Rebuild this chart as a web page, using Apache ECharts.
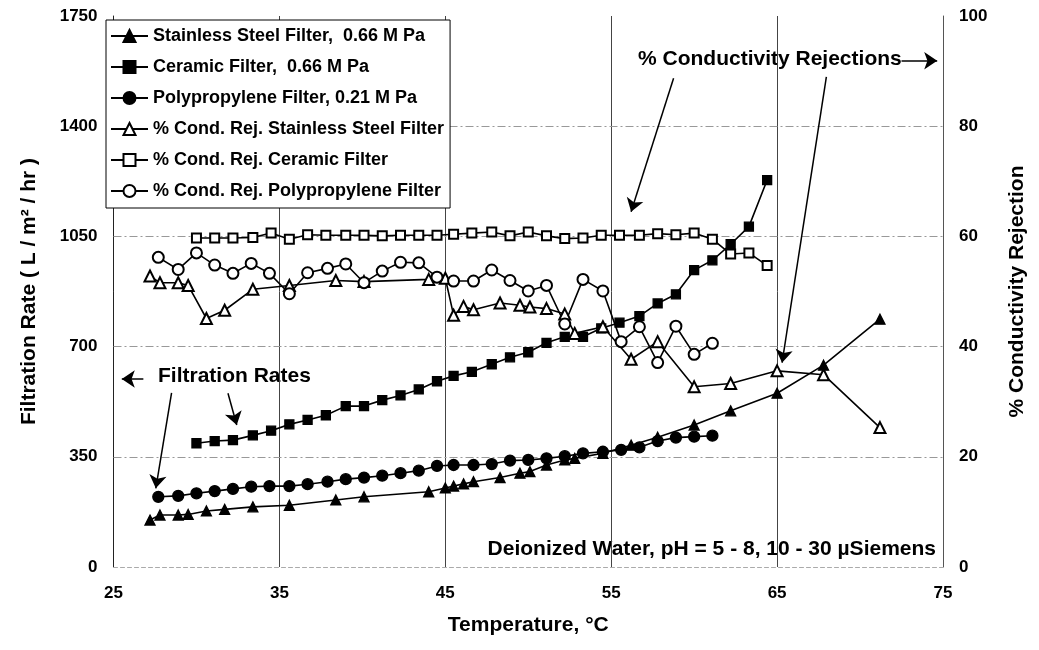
<!DOCTYPE html>
<html>
<head>
<meta charset="utf-8">
<script src="https://cdn.jsdelivr.net/npm/echarts@6/dist/echarts.min.js"></script>
<style>
html, body { margin: 0; padding: 0; background: #fff; }
#chart { width: 1039px; height: 650px; }
</style>
</head>
<body>
<div id="chart"></div>
<script>
// values
const steelTemp = [27.2, 27.8, 28.9, 29.5, 30.6, 31.7, 33.4, 35.6, 38.4, 40.1, 44.0, 45.0, 45.5, 46.1, 46.7,
  48.3, 49.5, 50.1, 51.1, 52.2, 52.8, 54.5, 56.2, 57.8, 60.0, 62.2, 65.0, 67.8, 71.2];
const steelRate = [149, 165, 165, 167, 178, 183, 191, 196, 213, 223, 239, 251, 257, 264, 271,
  284, 298, 303, 324, 340, 345, 361, 387, 412, 451, 496, 552, 641, 787];
const steelRej = [52.8, 51.6, 51.6, 51.1, 45.1, 46.6, 50.4, 51.1, 52.0, 51.8, 52.2, 52.4, 45.7, 47.3, 46.7,
  47.9, 47.5, 47.2, 46.9, 45.9, 42.4, 43.6, 37.7, 40.9, 32.7, 33.3, 35.6, 34.9, 25.3];

const ceramicTemp = [30.0, 31.1, 32.2, 33.4, 34.5, 35.6, 36.7, 37.8, 39.0, 40.1, 41.2, 42.3, 43.4, 44.5, 45.5, 46.6,
  47.8, 48.9, 50.0, 51.1, 52.2, 53.3, 54.4, 55.5, 56.7, 57.8, 58.9, 60.0, 61.1, 62.2, 63.3, 64.4];
const ceramicRate = [393, 400, 403, 418, 433, 453, 467, 482, 511, 511, 530, 545, 564, 590, 607, 620,
  644, 666, 682, 712, 731, 731, 758, 776, 797, 837, 866, 943, 974, 1025, 1081, 1229];
const ceramicRej = [59.7, 59.7, 59.7, 59.8, 60.6, 59.5, 60.3, 60.2, 60.2, 60.2, 60.1, 60.2, 60.2, 60.2, 60.4, 60.6,
  60.8, 60.1, 60.8, 60.1, 59.6, 59.7, 60.2, 60.2, 60.2, 60.5, 60.3, 60.6, 59.5, 56.8, 57.0, 54.7];

const ppTemp = [27.7, 28.9, 30.0, 31.1, 32.2, 33.3, 34.4, 35.6, 36.7, 37.9, 39.0, 40.1, 41.2, 42.3, 43.4, 44.5,
  45.5, 46.7, 47.8, 48.9, 50.0, 51.1, 52.2, 53.3, 54.5, 55.6, 56.7, 57.8, 58.9, 60.0, 61.1];
const ppRate = [223, 226, 234, 241, 248, 255, 257, 257, 263, 271, 279, 284, 290, 298, 306, 321,
  324, 324, 327, 338, 340, 345, 352, 361, 366, 372, 380, 400, 411, 414, 417];
const ppRej = [56.2, 54.0, 57.0, 54.8, 53.3, 55.1, 53.3, 49.6, 53.4, 54.2, 55.0, 51.6, 53.7, 55.3, 55.2, 52.6,
  51.9, 51.9, 53.9, 52.0, 50.1, 51.1, 44.1, 52.2, 50.1, 40.9, 43.6, 37.1, 43.7, 38.6, 40.6];

const rateTicks = [350, 700, 1050, 1400];

// annotation arrows, [from, to] in temperature / filtration-rate units
const arrows = [
  [[26.8, 597], [25.5, 597]],
  [[28.5, 553], [27.55, 250]],
  [[31.9, 552], [32.43, 451]],
  [[58.76, 1552], [56.2, 1128]],
  [[67.97, 1557], [65.3, 649]],
  [[72.5, 1608], [74.65, 1608]]
];

const FONT = '"Liberation Sans", Arial, sans-serif';

function zip(xs, ys) {
  return xs.map((x, i) => [x, ys[i]]);
}

function lineSeries(name, xs, ys, axis, symbol, size) {
  return {
    name: name,
    type: 'line',
    yAxisIndex: axis,
    data: zip(xs, ys),
    symbol: symbol,
    symbolSize: size,
    showSymbol: true,
    lineStyle: { color: '#000', width: 1.6 },
    itemStyle: { color: '#000', borderColor: '#000', borderWidth: 1.3 },
    emphasis: { disabled: true },
    animation: false
  };
}

let myChart = echarts.init(document.getElementById('chart'));

let series = [
  lineSeries('Stainless Steel Filter,  0.66 M Pa', steelTemp, steelRate, 0, 'triangle', 10),
  lineSeries('Ceramic Filter,  0.66 M Pa', ceramicTemp, ceramicRate, 0, 'rect', 9),
  lineSeries('Polypropylene Filter, 0.21 M Pa', ppTemp, ppRate, 0, 'circle', 11),
  lineSeries('% Cond. Rej. Stainless Steel Filter', steelTemp, steelRej, 1, 'emptyTriangle', 11),
  lineSeries('% Cond. Rej. Ceramic Filter', ceramicTemp, ceramicRej, 1, 'emptyRect', 9),
  lineSeries('% Cond. Rej. Polypropylene Filter', ppTemp, ppRej, 1, 'emptyCircle', 11)
];

// dashed horizontal grid lines
series[1].markLine = {
  silent: true,
  symbol: 'none',
  label: { show: false },
  animation: false,
  z: 1,
  lineStyle: { color: '#999', width: 1, type: [8, 3, 2, 3] },
  data: rateTicks.map(v => ({ yAxis: v }))
};

// arrows
series[0].markLine = {
  silent: true,
  symbol: ['none', 'arrow'],
  symbolSize: 13,
  label: { show: false },
  animation: false,
  lineStyle: { color: '#000', width: 1.5, type: 'solid' },
  data: arrows.map(a => [{ coord: a[0] }, { coord: a[1] }])
};

let option = {
  backgroundColor: '#fff',
  animation: false,
  grid: { left: 113.5, right: 96, top: 16, bottom: 83 },
  legend: {
    orient: 'vertical',
    left: 106,
    top: 20,
    z: 50,
    selectedMode: false,
    backgroundColor: '#fff',
    borderColor: '#000',
    borderWidth: 1,
    padding: [6, 6, 7, 4],
    itemWidth: 37,
    itemHeight: 15,
    itemGap: 11,
    itemTextGap: 3,
    textStyle: { fontFamily: FONT, fontWeight: 'bold', fontSize: 18, lineHeight: 20, color: '#000' }
  },
  xAxis: {
    type: 'value',
    min: 25,
    max: 75,
    interval: 10,
    name: 'Temperature, °C',
    nameLocation: 'middle',
    nameGap: 48,
    nameTextStyle: { fontFamily: FONT, fontWeight: 'bold', fontSize: 21, color: '#000' },
    axisLine: { show: true, onZero: false, lineStyle: { color: '#aaa', type: [4, 3] } },
    axisTick: { show: false },
    axisLabel: { margin: 18, fontFamily: FONT, fontWeight: 'bold', fontSize: 17, color: '#000' },
    splitLine: { show: true, lineStyle: { color: '#444', width: 1 } }
  },
  yAxis: [
    {
      type: 'value',
      min: 0,
      max: 1750,
      interval: 350,
      name: 'Filtration Rate ( L / m² / hr )',
      nameLocation: 'middle',
      nameRotate: 90,
      nameGap: 74,
      nameTextStyle: { fontFamily: FONT, fontWeight: 'bold', fontSize: 21, color: '#000' },
      axisLine: { show: true, lineStyle: { color: '#222', width: 1 } },
      axisTick: { show: false },
      axisLabel: {
        margin: 16, fontFamily: FONT, fontWeight: 'bold', fontSize: 17, color: '#000',
        formatter: v => String(v)
      },
      splitLine: { show: false }
    },
    {
      type: 'value',
      position: 'right',
      min: 0,
      max: 100,
      interval: 20,
      name: '% Conductivity Rejection',
      nameLocation: 'middle',
      nameRotate: 90,
      nameGap: 64,
      nameTextStyle: { fontFamily: FONT, fontWeight: 'bold', fontSize: 21, color: '#000' },
      axisLine: { show: true, lineStyle: { color: '#555', width: 1 } },
      axisTick: { show: false },
      axisLabel: { margin: 16, fontFamily: FONT, fontWeight: 'bold', fontSize: 17, color: '#000' },
      splitLine: { show: false }
    }
  ],
  graphic: [
    {
      type: 'text', left: 158, top: 366,
      style: { text: 'Filtration Rates', font: 'bold 21px ' + FONT, fill: '#000' }
    },
    {
      type: 'text', left: 638, top: 49,
      style: { text: '% Conductivity Rejections', font: 'bold 21px ' + FONT, fill: '#000' }
    },
    {
      type: 'text', right: 103, top: 539,
      style: { text: 'Deionized Water, pH = 5 - 8, 10 - 30 µSiemens', font: 'bold 21px ' + FONT, fill: '#000' }
    }
  ],
  series: series
};

myChart.setOption(option);
</script>
</body>
</html>
